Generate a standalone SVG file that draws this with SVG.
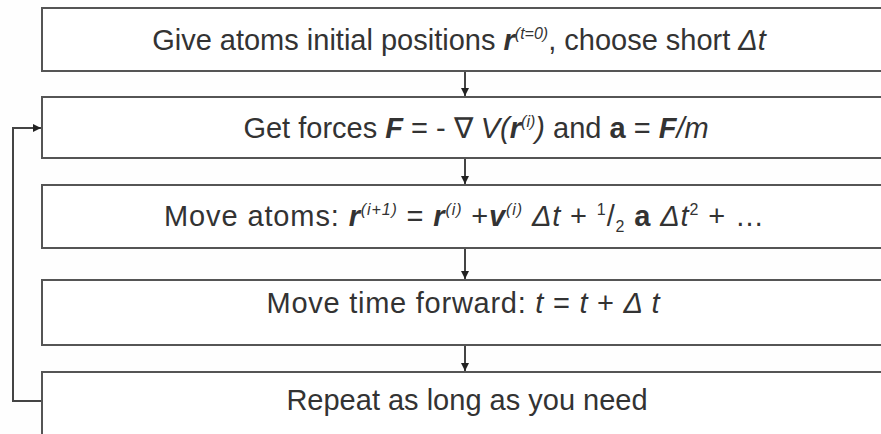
<svg xmlns="http://www.w3.org/2000/svg" width="881" height="434" viewBox="0 0 881 434">
<defs>
<style>
.box{fill:#ffffff;stroke:#555555;stroke-width:2}
.con{fill:none;stroke:#444444;stroke-width:2}
.t{font-family:"Liberation Sans",Arial,sans-serif;font-size:29px;fill:#333333;text-anchor:middle}
.bi{font-weight:bold;font-style:italic}
.i{font-style:italic}
.b{font-weight:bold}
.s{font-size:16px;font-style:italic}
</style>
<marker id="ah" viewBox="0 0 10 10" refX="10" refY="5" markerWidth="4" markerHeight="4" orient="auto" markerUnits="strokeWidth">
<path d="M0,0 L10,5 L0,10 z" fill="#222222"/>
</marker>
</defs>
<rect x="0" y="0" width="881" height="434" fill="#fefefe"/>
<g id="connectors">
<line class="con" x1="465" y1="71" x2="465" y2="96" marker-end="url(#ah)"/>
<line class="con" x1="465" y1="159" x2="465" y2="184" marker-end="url(#ah)"/>
<line class="con" x1="465" y1="249" x2="465" y2="279" marker-end="url(#ah)"/>
<line class="con" x1="465" y1="346" x2="465" y2="371" marker-end="url(#ah)"/>
<path class="con" d="M42,401 H13 V128 H41" marker-end="url(#ah)"/>
</g>
<g id="n1">
<rect class="box" x="42" y="8" width="860" height="63"/>
<text class="t" x="459" y="50">Give atoms initial positions <tspan class="bi">r</tspan><tspan class="s" dy="-11">(t=0)</tspan><tspan dy="11">, choose short </tspan><tspan class="i">Δt</tspan></text>
</g>
<g id="n2">
<rect class="box" x="42" y="97" width="860" height="61"/>
<text class="t" x="476" y="138">Get forces <tspan class="bi">F</tspan> = - ∇ <tspan class="i">V(</tspan><tspan class="bi">r</tspan><tspan class="s" dy="-11">(i)</tspan><tspan class="i" dy="11">)</tspan> and <tspan class="b">a</tspan> = <tspan class="bi">F</tspan><tspan class="i">/m</tspan></text>
</g>
<g id="n3">
<rect class="box" x="42" y="185" width="860" height="63"/>
<text class="t" x="464" y="226" textLength="600" lengthAdjust="spacing">Move atoms: <tspan class="bi">r</tspan><tspan class="s" dy="-11">(i+1)</tspan><tspan dy="11"> = </tspan><tspan class="bi">r</tspan><tspan class="s" dy="-11">(i)</tspan><tspan dy="11"> +</tspan><tspan class="bi">v</tspan><tspan class="s" dy="-11">(i)</tspan><tspan dy="11"> </tspan><tspan class="i">Δt</tspan> + <tspan class="s" style="font-style:normal" dy="-11">1</tspan><tspan dy="11">/</tspan><tspan class="s" style="font-style:normal" dy="6">2</tspan><tspan dy="-6"> </tspan><tspan class="b">a</tspan> <tspan class="i">Δt</tspan><tspan class="s" style="font-style:normal" dy="-11">2</tspan><tspan dy="11"> + …</tspan></text>
</g>
<g id="n4">
<rect class="box" x="42" y="280" width="860" height="65"/>
<text class="t" x="463" y="313" textLength="393" lengthAdjust="spacing">Move time forward: <tspan class="i">t</tspan> = <tspan class="i">t</tspan> + <tspan class="i">Δ t</tspan></text>
</g>
<g id="n5">
<rect class="box" x="42" y="372" width="860" height="80"/>
<text class="t" x="467" y="410">Repeat as long as you need</text>
</g>
</svg>
